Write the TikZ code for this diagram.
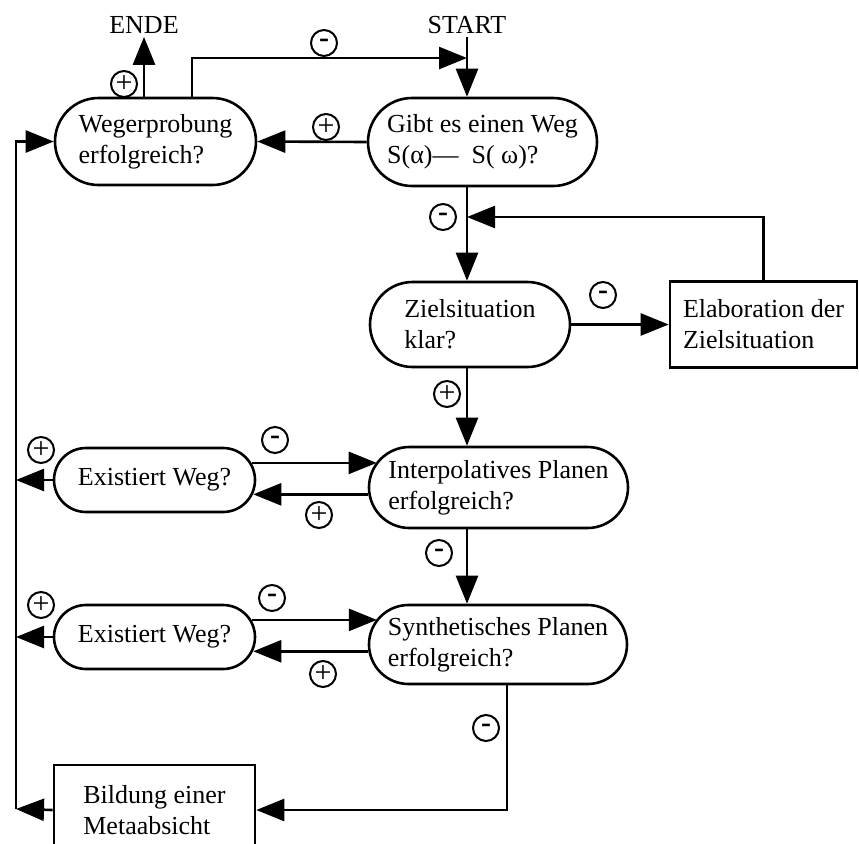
\documentclass[tikz,border=0pt]{standalone}
\usepackage{fontspec}
\setmainfont{Liberation Serif}
\usetikzlibrary{arrows.meta,shapes.misc}

\begin{document}
\begin{tikzpicture}[x=0.5pt,y=-0.5pt,line width=1.3pt,
    >={Triangle[length=14pt,width=11pt]},
    font=\fontsize{13}{15.5}\selectfont]

    %--- Styles
    \tikzstyle{oval}=[draw, rounded rectangle, inner xsep=-20pt, inner ysep=0pt, align=left]
    \tikzstyle{box}=[draw, rectangle, inner sep=0pt, align=left]
    \tikzstyle{label text}=[inner sep=1pt]
    \tikzstyle{signmark}=[draw, circle, line width=1pt, minimum size=13pt, inner sep=0pt, font=\fontsize{15}{15}\selectfont]

    %--- Frame (the last box runs off the bottom edge)
    \useasboundingbox (0,0) rectangle (859,843);
    \clip (0,0) rectangle (859,843);

    %--- Start / end
    \node[label text] (ende)  at (144,25) {ENDE};
    \node[label text] (start) at (467,25) {START};

    %--- Decisions and actions
    \node[oval, minimum width=60.5pt, minimum height=43.5pt] (weg)   at (155.5,141.5) {Wegerprobung\\erfolgreich?};
    \node[oval, minimum width=74.5pt, minimum height=44pt]   (gibt)  at (482.5,142)   {Gibt es einen Weg\\S(α)—~~S( ω)?};
    \node[oval, minimum width=60pt,   minimum height=42.5pt] (ziel)  at (470,324.5)   {Zielsituation\\klar?};
    \node[box,  minimum width=93.5pt, minimum height=43pt]   (elab)  at (763.5,324.5) {Elaboration der\\Zielsituation};
    \node[oval, minimum width=89.5pt, minimum height=40.5pt] (inter) at (498.5,487.5) {Interpolatives Planen\\erfolgreich?};
    \node[oval, minimum width=60.5pt, minimum height=32pt]   (exA)   at (154.5,480)   {Existiert Weg?};
    \node[oval, minimum width=89pt,   minimum height=39.5pt] (synth) at (498,644.5)   {Synthetisches Planen\\erfolgreich?};
    \node[oval, minimum width=60.5pt, minimum height=32pt]   (exB)   at (154.5,637)   {Existiert Weg?};
    \node[box,  minimum width=100.5pt, minimum height=45pt]  (meta)  at (154.5,810)   {Bildung einer\\Metaabsicht};

    %--- Joints on lines
    \coordinate (loopin) at (467,58);
    \coordinate (backin) at (467,217);
    \coordinate (rail)   at (16,809);

    %--- Main spine
    \draw[->] (start) -- (gibt.north -| start);
    \draw[->] (gibt.south -| start) -- (ziel.north -| start);
    \draw[->] (ziel.south -| start) -- (inter.north -| start);
    \draw[->] (inter.south -| start) -- (synth.north -| start);

    % Top part
    \draw[->] (weg.north -| ende) -- (ende);
    \draw[->] ([xshift=18.25pt]weg.north) |- (loopin);
    \draw[->] (gibt.west) -- (weg.east);
    \draw[->] (ziel.east) -- (elab.west);
    \draw[->] (elab.north) |- (backin);

    % Side questions
    \draw[->] (exA.10) -- (exA.10 -| inter.168.6);
    \draw[->] (inter.183.3) -- (inter.183.3 -| exA.-8.9);
    \draw[->] (exB.10) -- (exB.10 -| synth.168.5);
    \draw[->] (synth.183.3) -- (synth.183.3 -| exB.-8.9);
    \draw[->] ([xshift=4.5pt]synth.south) |- (meta.east);

    % Return rail on the left
    \draw[->] (exA.west) -- (exA.west -| rail);
    \draw[->] (exB.west) -- (exB.west -| rail);
    \draw[->] (meta.west) -- (rail);
    \draw[->] (rail) |- (weg.west);

    %--- Plus / minus marks
    \node[signmark] (p1)  at (124,84)  {+};
    \node[signmark] (m1)  at (324,43)  {\textbf{-}};
    \node[signmark] (p2)  at (326,127) {+};
    \node[signmark] (m2)  at (443,217) {\textbf{-}};
    \node[signmark] (m3)  at (603,295) {\textbf{-}};
    \node[signmark] (p3)  at (447,394) {+};
    \node[signmark] (p4)  at (41,450)  {+};
    \node[signmark] (m4)  at (275,440) {\textbf{-}};
    \node[signmark] (p5)  at (319,515) {+};
    \node[signmark] (m5)  at (439,553) {\textbf{-}};
    \node[signmark] (p6)  at (41,605)  {+};
    \node[signmark] (m6)  at (272,598) {\textbf{-}};
    \node[signmark] (p7)  at (323,674) {+};
    \node[signmark] (m7)  at (486,728) {\textbf{-}};

\end{tikzpicture}
\end{document}
